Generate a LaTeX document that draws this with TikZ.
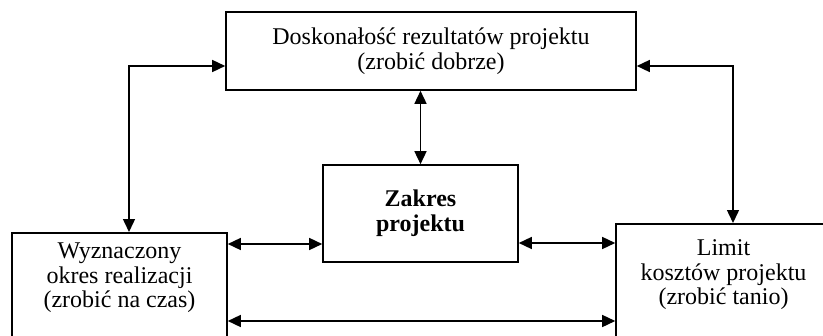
\documentclass[tikz,border=0pt]{standalone}
\usepackage{fontspec}
\setmainfont{Liberation Serif}
\usetikzlibrary{arrows.meta,positioning}

\begin{document}
\begin{tikzpicture}[>={Triangle[length=6.5pt,width=6pt]},on grid,
    every node/.style={font=\fontsize{12}{12.3}\selectfont},
    box/.style={draw,line width=0.8pt,align=center},
    sidebox/.style={box,minimum width=107.5pt,anchor=north,text depth=40pt},
    conn/.style={<->,line width=0.75pt}]
  \useasboundingbox (0,0) rectangle (411.5pt,-168pt);
  % boxes
  \node[box,minimum width=97.5pt,minimum height=48.5pt,
        font=\fontsize{12}{12.3}\selectfont\bfseries] (zakres) at (210.25pt,-106.75pt) {Zakres\\projektu};
  \node[box,minimum width=205pt,minimum height=39pt] (dosk) [above right=81.25pt and 5.25pt of zakres]
        {Doskonałość rezultatów projektu\\(zrobić dobrze)};
  \node[sidebox,inner ysep=5pt] (wyzn) at (59.75pt,-116pt)
        {Wyznaczony\\okres realizacji\\(zrobić na czas)};
  \node[sidebox,inner ysep=8pt] (limit) at (361.75pt,-111.5pt)
        {Limit\\kosztów projektu\\(zrobić tanio)};
  % helper points
  \coordinate (lz) at ([yshift=-15.25pt]zakres.west);
  \coordinate (rz) at ([yshift=-14.75pt]zakres.east);
  \coordinate (bot) at ([yshift=-44.5pt]wyzn.north east);
  % connectors
  \draw[conn] ([xshift=4.75pt]wyzn.north) |- ([yshift=-7.5pt]dosk.west);
  \draw[conn] ([xshift=4.75pt]limit.north) |- ([yshift=-7.5pt]dosk.east);
  \draw[conn] (zakres.north |- dosk.south) -- (zakres.north);
  \draw[conn] (wyzn.east |- lz) -- (lz);
  \draw[conn] (rz) -- (limit.west |- rz);
  \draw[conn] (bot) -- (limit.west |- bot);
\end{tikzpicture}
\end{document}
